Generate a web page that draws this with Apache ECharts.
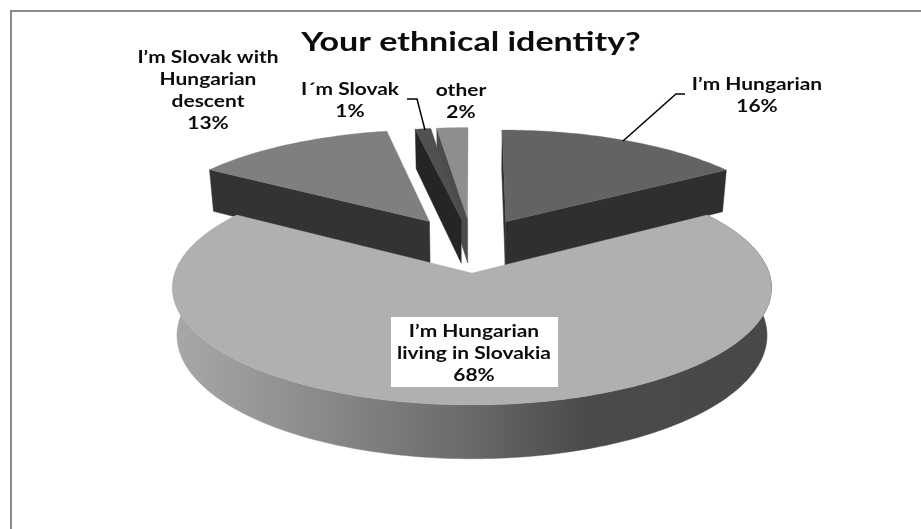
<!DOCTYPE html>
<html>
<head>
<meta charset="utf-8">
<style>html,body{margin:0;padding:0;background:#fff}#chart{width:921px;height:529px}</style>
<script src="https://cdn.jsdelivr.net/npm/echarts@6/dist/echarts.min.js"></script>
</head>
<body>
<div id="chart"></div>
<script>
const chartTitle = "Your ethnical identity?";
const categories = ["I’m Hungarian", "I’m Hungarian\nliving in Slovakia", "I’m Slovak with\nHungarian\ndescent", "I´m Slovak", "other"];
const shares = [16, 68, 13, 1, 2];
const percentLabels = ["16%", "68%", "13%", "1%", "2%"];
const faceColors = ["#636363", "#b0b0b0", "#7f7f7f", "#505050", "#8e8e8e"];
const wallColors = ["#2f2f2f", "#6e6e6e", "#333333", "#252525", "#4c4c4c"];
const paintOrder = [3, 5, 3, 2, 1];
const explosions = [0.25, 0.25, 0.27, 0.25, 0.25];
const labelAnchors = [[757, 96], [474, 354], [208, 91], [350, 101], [461, 102]];

// Perspective camera for the tilted pie plane
const CX = 472, CY = 245, SCALE_X = 288, SCALE_Y = 108.4, PERSP = 0.1225;
const DEPTH = 45.5, FLOOR_SHRINK = 0.985;
const FONT = "Lato";

function project(u, v, lower) {
  const w = 1 + PERSP * v;
  const dx = SCALE_X * u / w;
  return lower
    ? [CX + dx * FLOOR_SHRINK, CY - SCALE_Y * v / w + DEPTH / w]
    : [CX + dx, CY - SCALE_Y * v / w];
}

const total = shares.reduce((a, b) => a + b, 0);
const starts = [];
shares.reduce((acc, s, i) => { starts[i] = acc; return acc + s; }, 0);

function sliceGeometry(i) {
  const a0 = starts[i] / total * 2 * Math.PI;
  const a1 = (starts[i] + shares[i]) / total * 2 * Math.PI;
  const mid = (a0 + a1) / 2;
  const ox = Math.sin(mid) * explosions[i], oy = Math.cos(mid) * explosions[i];
  const steps = Math.max(2, Math.ceil((a1 - a0) / 0.02));
  const rim = [];
  for (let k = 0; k <= steps; k++) {
    const a = a0 + (a1 - a0) * k / steps;
    rim.push([Math.sin(a) + ox, Math.cos(a) + oy]);
  }
  return { apex: [ox, oy], rim };
}

function renderSlice(params, api) {
  const i = params.dataIndex;
  const { apex, rim } = sliceGeometry(i);
  const top = p => project(p[0], p[1], false);
  const low = p => project(p[0], p[1], true);
  const z = paintOrder[i] * 10;
  const children = [];
  const wall = (pts, fill, zz) => children.push({
    type: "polygon", z2: zz, shape: { points: pts },
    style: { fill, stroke: fill, lineWidth: 0.5 }
  });

  if (i === 1) {
    // Curved outer wall of the large slice, shaded left to right
    const upper = rim.map(top), lower = rim.map(low).reverse();
    wall(upper.concat(lower), new echarts.graphic.LinearGradient(172, 0, 773, 0, [
      { offset: 0, color: "#a8a8a8" },
      { offset: 0.21, color: "#8f8f8f" },
      { offset: 0.49, color: "#6a6a6a" },
      { offset: 0.69, color: "#4a4a4a" },
      { offset: 1, color: "#484848" }
    ], true), z);
  } else {
    // Cut faces that turn toward the viewer
    const edge = i === 0 ? rim[rim.length - 1] : rim[0];
    wall([top(edge), top(apex), low(apex), low(edge)], wallColors[i], z);
    if (i === 0) {
      wall([top(rim[0]), top(apex), low(apex), low(rim[0])], wallColors[i], z);
    }
  }
  children.push({
    type: "polygon", z2: z + 1,
    shape: { points: [top(apex)].concat(rim.map(top)) },
    style: { fill: faceColors[i], stroke: faceColors[i], lineWidth: 0.3 }
  });
  return { type: "group", children };
}

const chart = echarts.init(document.getElementById("chart"), null, { renderer: "canvas" });

const stretchedText = (text, x, y, size, lineHeight, stretch) => ({
  type: "text", z: 20, x, y, scaleX: stretch,
  style: {
    text, fill: "#0c0c0c", align: "center", verticalAlign: "middle",
    font: "bold " + size + "px " + FONT, lineHeight
  }
});

const labelElements = categories.map((name, i) =>
  stretchedText(name + "\n" + percentLabels[i], labelAnchors[i][0], labelAnchors[i][1], 16.5, 22, 1.27));

chart.setOption({
  animation: false,
  backgroundColor: "#fff",
  graphic: [
    { type: "polyline", z: 19, shape: { points: [[685, 94], [676, 94], [623, 141]] }, style: { stroke: "#000", lineWidth: 1.5, fill: null } },
    { type: "polyline", z: 19, shape: { points: [[407, 99], [417, 99], [425, 130]] }, style: { stroke: "#000", lineWidth: 1.5, fill: null } },
    { type: "polyline", z: 0, shape: { points: [[11, 529], [11, 11], [921, 11]] }, style: { stroke: "#8a8a8a", lineWidth: 2, fill: null } },
    { type: "rect", z: 19, shape: { x: 391, y: 317, width: 167, height: 70 }, style: { fill: "#fff" } },
    stretchedText(chartTitle, 471, 43, 26, 30, 1.31)
  ].concat(labelElements),
  series: [{
    type: "custom",
    coordinateSystem: "none",
    renderItem: renderSlice,
    data: shares
  }]
});
</script>
</body>
</html>
